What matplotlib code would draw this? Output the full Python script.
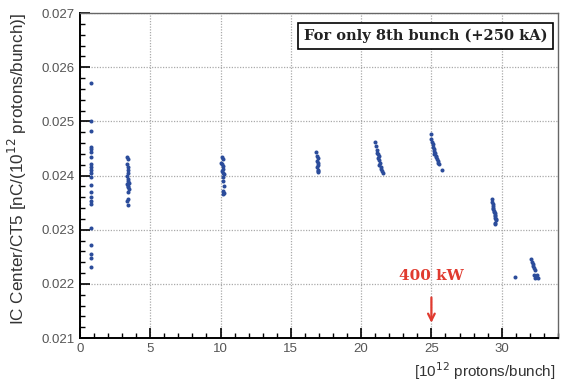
import matplotlib
matplotlib.use('Agg')
import matplotlib.pyplot as plt
from matplotlib.ticker import MultipleLocator, FormatStrFormatter

plt.rcParams['font.family'] = ['Liberation Sans', 'DejaVu Sans']

# intensity [1e12 protons/bunch] and IC center / CT5 values, grouped by run
x1 = [0.8] * 22
y1 = [0.02571, 0.02500, 0.02482, 0.02453, 0.02449, 0.02444, 0.02435, 0.02421,
      0.02416, 0.02410, 0.02404, 0.02398, 0.02383, 0.02369, 0.02361, 0.02353,
      0.02348, 0.02304, 0.02271, 0.02256, 0.02247, 0.02232]
x2 = [3.35, 3.4, 3.35, 3.4, 3.45, 3.4, 3.35, 3.45, 3.4, 3.5, 3.35, 3.45, 3.4,
      3.5, 3.4, 3.45, 3.35, 3.45]
y2 = [0.02435, 0.02430, 0.02422, 0.02416, 0.02410, 0.02405, 0.02400, 0.02394,
      0.02390, 0.02387, 0.02384, 0.02381, 0.02378, 0.02375, 0.02369, 0.02357,
      0.02353, 0.02346]
x3 = [10.1, 10.15, 10.0, 10.1, 10.2, 10.15, 10.1, 10.2, 10.25, 10.15, 10.2,
      10.25, 10.2, 10.25, 10.2]
y3 = [0.02435, 0.02430, 0.02424, 0.02422, 0.02418, 0.02412, 0.02408, 0.02404,
      0.02402, 0.02398, 0.02390, 0.02380, 0.02372, 0.02368, 0.02366]
x4 = [16.8, 16.85, 16.9, 16.85, 16.95, 16.9, 16.85, 16.95, 16.9, 16.95]
y4 = [0.02443, 0.02437, 0.02432, 0.02427, 0.02423, 0.02419, 0.02415, 0.02411,
      0.02408, 0.02406]
x5 = [21.0, 21.05, 21.1, 21.15, 21.2, 21.25, 21.2, 21.3, 21.35, 21.3, 21.4,
      21.45, 21.5, 21.55]
y5 = [0.02462, 0.02455, 0.02447, 0.02442, 0.02440, 0.02436, 0.02432, 0.02428,
      0.02424, 0.02420, 0.02416, 0.02412, 0.02408, 0.02404]
x6 = [25.0, 25.0, 25.05, 25.1, 25.1, 25.15, 25.2, 25.25, 25.2, 25.3, 25.35,
      25.4, 25.45, 25.5, 25.55, 25.75]
y6 = [0.02477, 0.02468, 0.02462, 0.02458, 0.02452, 0.02449, 0.02445, 0.02442,
      0.02440, 0.02437, 0.02434, 0.02430, 0.02427, 0.02424, 0.02422, 0.02411]
x7 = [29.3, 29.3, 29.35, 29.35, 29.4, 29.4, 29.45, 29.45, 29.5, 29.5, 29.55,
      29.55, 29.6, 29.6, 29.5, 29.55]
y7 = [0.02357, 0.02352, 0.02348, 0.02344, 0.02341, 0.02338, 0.02335, 0.02332,
      0.02330, 0.02327, 0.02325, 0.02322, 0.02320, 0.02318, 0.02313, 0.02311]
x8 = [30.95, 32.1, 32.15, 32.2, 32.25, 32.3, 32.35, 32.3, 32.5, 32.35, 32.55]
y8 = [0.02212, 0.02246, 0.02241, 0.02236, 0.02233, 0.02229, 0.02225, 0.02216,
      0.02216, 0.02211, 0.02211]

xs = x1 + x2 + x3 + x4 + x5 + x6 + x7 + x8
ys = y1 + y2 + y3 + y4 + y5 + y6 + y7 + y8

fig = plt.figure(figsize=(5.67, 3.85), dpi=100)
ax = fig.add_axes([0.141, 0.122, 0.843, 0.844])

ax.plot(xs, ys, 'o', color='#2b4c9b', markersize=2.9, markeredgewidth=0)

ax.set_xlim(0, 34)
ax.set_ylim(0.021, 0.027)
ax.xaxis.set_major_locator(MultipleLocator(5))
ax.xaxis.set_minor_locator(MultipleLocator(1))
ax.yaxis.set_major_locator(MultipleLocator(0.001))
ax.yaxis.set_minor_locator(MultipleLocator(0.0002))
ax.yaxis.set_major_formatter(FormatStrFormatter('%.3f'))
ax.tick_params(which='major', direction='in', length=7, width=1.2,
               labelsize=9.5, labelcolor='#555555', top=False, right=False)
ax.tick_params(which='minor', direction='in', length=3.5, width=1.0,
               top=False, right=False)
ax.grid(True, which='major', linestyle=(0, (1, 1.2)), color='#aaaaaa', linewidth=0.9)
for side in ['left', 'bottom']:
    ax.spines[side].set_linewidth(1.4)
for side in ['right', 'top']:
    ax.spines[side].set_linewidth(1.0)
    ax.spines[side].set_color('#666666')

ax.set_ylabel('IC Center/CT5 [nC/(10$^{12}$ protons/bunch)]', fontsize=12.3,
              color='#333333', loc='top')
ax.yaxis.set_label_coords(-0.107, 1.0)
fig.text(0.98, 0.035, '[10$^{12}$ protons/bunch]', ha='right', va='center',
         fontsize=11, color='#333333')

ax.text(25.0, 0.02214, '400 kW', ha='center', va='center', color='#e03a2f',
        fontsize=11, fontweight='bold', family='DejaVu Serif')
ax.annotate('', xy=(25.0, 0.02123), xytext=(25.0, 0.0218),
            arrowprops=dict(arrowstyle='->', color='#e03a2f', lw=1.6,
                            mutation_scale=12))

ax.text(0.978, 0.929, 'For only 8th bunch (+250 kA)', transform=ax.transAxes,
        ha='right', va='center', fontsize=10.5, fontweight='bold',
        family='DejaVu Serif', color='#222222',
        bbox=dict(boxstyle='square,pad=0.4', facecolor='white',
                  edgecolor='black', linewidth=1.2))
ax.set_zorder(1)

fig.savefig('out.png', dpi=100)
